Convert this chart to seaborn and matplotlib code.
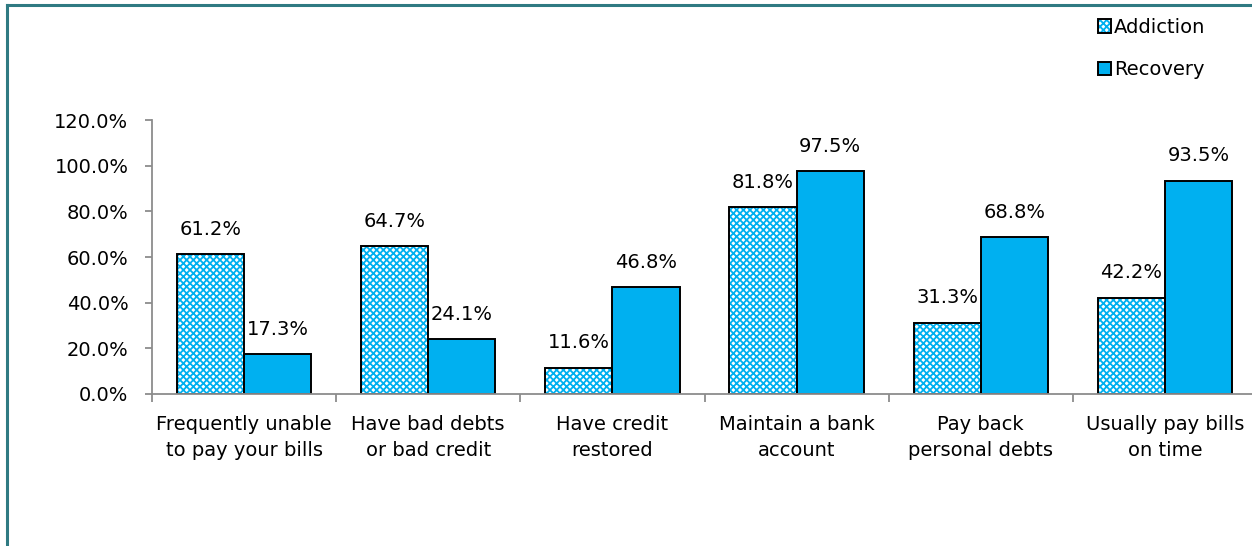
import matplotlib
matplotlib.use("Agg")
import matplotlib.pyplot as plt
from matplotlib.patches import Patch, Rectangle
from matplotlib.lines import Line2D
from matplotlib.legend_handler import HandlerTuple
from matplotlib.ticker import FixedLocator, PercentFormatter
import pandas as pd
import seaborn as sns

categories = [
    "Frequently unable\nto pay your bills",
    "Have bad debts\nor bad credit",
    "Have credit\nrestored",
    "Maintain a bank\naccount",
    "Pay back\npersonal debts",
    "Usually pay bills\non time",
]
addiction = [61.2, 64.7, 11.6, 81.8, 31.3, 42.2]
recovery = [17.3, 24.1, 46.8, 97.5, 68.8, 93.5]
series_names = ["Addiction", "Recovery"]
y_ticks = [0, 20, 40, 60, 80, 100, 120]

BLUE = "#00b0f0"
FRAME = "#2f7a82"
AXIS_GREY = "#8c8c8c"
CHECKER = "xxxxx"

df = pd.DataFrame({
    "category": categories * 2,
    "series": [series_names[0]] * len(categories) + [series_names[1]] * len(categories),
    "value": addiction + recovery,
})

sns.set_theme(style="white")
plt.rcParams["font.family"] = ["DejaVu Sans"]
plt.rcParams["font.size"] = 14
plt.rcParams["text.color"] = "black"
plt.rcParams["hatch.linewidth"] = 1.3

fig = plt.figure(figsize=(12.52, 5.46), dpi=100)
ax = fig.add_axes([0.1214, 0.2784, 0.8826, 0.5018])

sns.barplot(
    data=df, x="category", y="value", hue="series",
    order=categories, hue_order=series_names,
    palette={"Addiction": "white", "Recovery": BLUE}, saturation=1,
    edgecolor="black", linewidth=1.4, width=0.73, gap=0,
    legend=False, ax=ax,
)

# Checkered fill for the addiction bars: the hatch takes the edge colour,
# so the black outline is drawn as a separate unfilled rectangle on top.
for bar in ax.containers[0]:
    bar.set_facecolor("white")
    bar.set_edgecolor(BLUE)
    bar.set_hatch(CHECKER)
    bar.set_linewidth(0)
    ax.add_patch(Rectangle((bar.get_x(), bar.get_y()), bar.get_width(), bar.get_height(),
                           fill=False, edgecolor="black", linewidth=1.4, zorder=bar.get_zorder() + 0.1))

# Value labels above every bar
for container in ax.containers:
    ax.bar_label(container, labels=[f"{v:.1f}%" for v in container.datavalues],
                 padding=11, fontsize=14, color="black")

ax.set_ylim(0, 120)
ax.set_xlim(-0.5, len(categories) - 0.5)
ax.yaxis.set_major_locator(FixedLocator(y_ticks))
ax.yaxis.set_major_formatter(PercentFormatter(decimals=1))
ax.set_xlabel("")
ax.set_ylabel("")

for side in ["top", "right"]:
    ax.spines[side].set_visible(False)
for side in ["left", "bottom"]:
    ax.spines[side].set_color(AXIS_GREY)
    ax.spines[side].set_linewidth(1.3)

ax.tick_params(axis="y", which="major", left=True, length=5, width=1.3, color=AXIS_GREY,
               pad=12, labelsize=14, labelcolor="black")
ax.tick_params(axis="x", which="major", length=0, pad=15, labelsize=14, labelcolor="black")
ax.set_xticks([i - 0.5 for i in range(len(categories) + 1)], minor=True)
ax.tick_params(axis="x", which="minor", bottom=True, length=6, width=1.3, color=AXIS_GREY)
for lbl in ax.get_xticklabels():
    lbl.set_linespacing(1.5)

# Legend in the upper right corner
hatch_square = Patch(facecolor="white", edgecolor=BLUE, hatch=CHECKER, linewidth=0)
outline_square = Patch(facecolor="none", edgecolor="black", linewidth=1.4)
recovery_square = Patch(facecolor=BLUE, edgecolor="black", linewidth=1.4)
fig.legend(
    handles=[(hatch_square, outline_square), recovery_square],
    labels=series_names,
    handler_map={tuple: HandlerTuple(ndivide=1)},
    loc="upper left", bbox_to_anchor=(1090 / 1252, 1 - 10 / 546),
    frameon=False, fontsize=14, handlelength=0.7, handleheight=0.7,
    handletextpad=0.12, labelspacing=1.2, borderaxespad=0, labelcolor="black",
)

# Outer frame along the top and left edges
fig.add_artist(Line2D([6.5 / 1252, 6.5 / 1252], [0, 1 - 4.5 / 546], transform=fig.transFigure,
                      color=FRAME, linewidth=2.2, solid_capstyle="projecting"))
fig.add_artist(Line2D([6.5 / 1252, 1], [1 - 4.5 / 546, 1 - 4.5 / 546], transform=fig.transFigure,
                      color=FRAME, linewidth=2.2, solid_capstyle="projecting"))

fig.savefig("out.png", dpi=100)
